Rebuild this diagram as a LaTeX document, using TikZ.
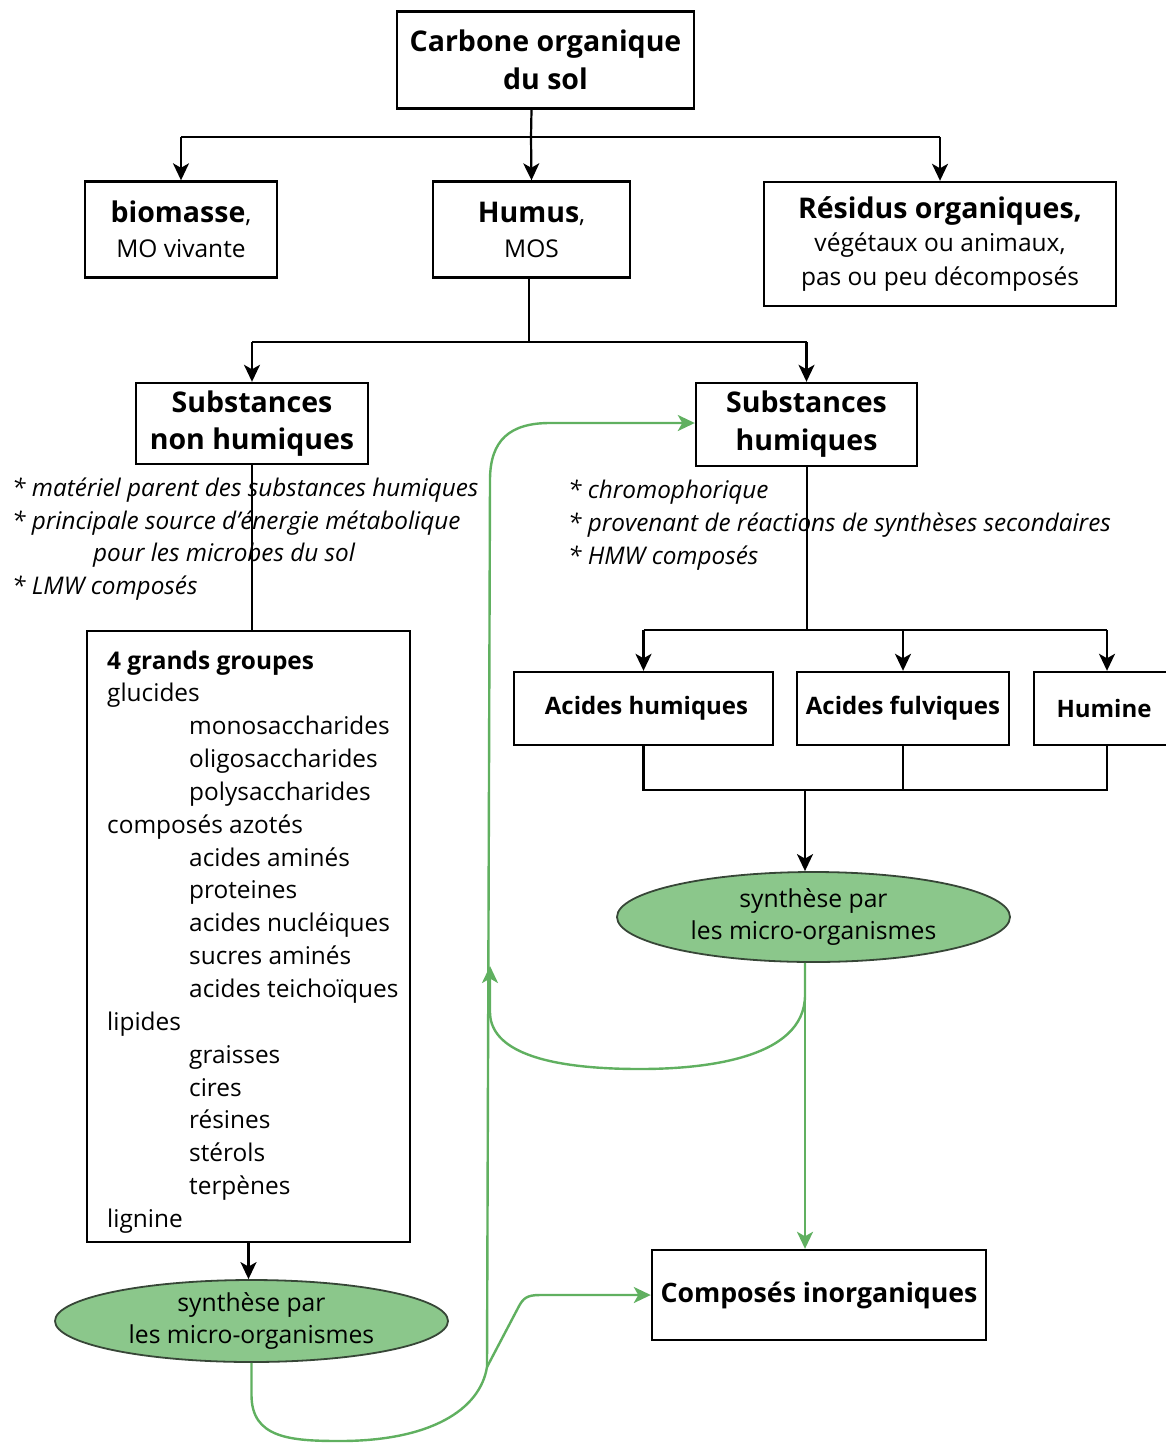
\documentclass[tikz,border=0pt]{standalone}
\usepackage{fontspec}
\setmainfont{Open Sans}
\usetikzlibrary{arrows.meta,shapes.geometric}
\definecolor{gline}{RGB}{96,176,96}
\definecolor{gfill}{RGB}{139,199,139}
\definecolor{gborder}{RGB}{55,70,55}
\tikzset{
  box/.style={draw=black, line width=2.4pt, inner sep=0pt, align=center},
  conn/.style={line width=2.2pt, black},
  arr/.style={conn, -{Stealth[length=17pt,width=16pt,inset=4.5pt]}},
  garr/.style={line width=2.4pt, gline, -{Stealth[length=17pt,width=16pt,inset=4.5pt]}},
  gconn/.style={line width=2.4pt, gline},
  oval/.style={ellipse, draw=gborder, line width=1.8pt, fill=gfill, inner sep=0pt, align=center},
  note/.style={anchor=base west, inner sep=0pt, font=\fontsize{24.3}{30}\selectfont\itshape},
  item/.style={anchor=base west, inner sep=0pt, font=\fontsize{24.4}{32}\selectfont},
}
\newcommand{\bigb}{\fontsize{28.5}{36}\selectfont\bfseries}
\newcommand{\reg}{\fontsize{24.5}{34}\selectfont\mdseries}
\begin{document}
\begin{tikzpicture}[x=1pt,y=-1pt]
\useasboundingbox (0,0) rectangle (1166,1443);
\fill[white] (0,0) rectangle (1166,1443);
% boxes
\node[box, minimum width=297pt, minimum height=97pt, font=\fontsize{28.5}{38}\selectfont\bfseries] (carb) at (545.5,60) {Carbone organique\\du sol};
\node[box, minimum width=192pt, minimum height=96pt, font=\fontsize{24.5}{35}\selectfont] (bio) at (181,229.5) {{\bigb biomasse}{\reg,}\\{\reg MO vivante}};
\node[box, minimum width=197pt, minimum height=96pt, font=\fontsize{24.5}{35}\selectfont] (hum) at (531.5,229.5) {{\bigb Humus}{\reg,}\\{\reg MOS}};
\node[box, minimum width=352pt, minimum height=124pt, font=\fontsize{24.5}{33.5}\selectfont] (res) at (940,244) {{\bigb Résidus organiques,}\\{\reg végétaux ou animaux,}\\{\reg pas ou peu décomposés}};
\node[box, minimum width=232pt, minimum height=81pt, font=\fontsize{28.5}{37}\selectfont\bfseries] (snh) at (252,423.5) {Substances\\non humiques};
\node[box, minimum width=221pt, minimum height=83pt, font=\fontsize{28.5}{38}\selectfont\bfseries] (sh) at (806.5,424.5) {Substances\\humiques};
\node[box, minimum width=323pt, minimum height=611pt] (grp) at (248.5,936.5) {};
\node[box, minimum width=259pt, minimum height=73pt, font=\fontsize{24}{30}\selectfont\bfseries] (ah) at (643.5,708.5) {\hspace*{6pt}Acides humiques};
\node[box, minimum width=212pt, minimum height=73pt, font=\fontsize{24}{30}\selectfont\bfseries] (af) at (903,708.5) {Acides fulviques};
\node[box, minimum width=146pt, minimum height=73pt, font=\fontsize{24}{30}\selectfont\bfseries] (hu) at (1107,708.5) {\hspace*{-6pt}Humine};
\node[box, minimum width=334pt, minimum height=90pt, font=\fontsize{26.7}{30}\selectfont\bfseries] (comp) at (819,1295) {Composés inorganiques};
% ellipses
\node[oval, minimum width=393pt, minimum height=82pt, font=\fontsize{24.7}{32}\selectfont] (ell1) at (251.5,1321) {synthèse par\\les micro-organismes};
\node[oval, minimum width=393pt, minimum height=90pt, font=\fontsize{24.7}{32}\selectfont] (ell2) at (813.5,917) {synthèse par\\les micro-organismes};
% notes left
\node[note] (n1) at (12,496) {* matériel parent des substances humiques};
\node[note] (n2) at (12,529) {* principale source d’énergie métabolique};
\node[note] (n3) at (93,561) {pour les microbes du sol};
\node[note] (n4) at (12,594) {* LMW composés};
% notes right
\node[note] (m1) at (568,498) {* chromophorique};
\node[note] (m2) at (568,531) {* provenant de réactions de synthèses secondaires};
\node[note] (m3) at (568,564) {* HMW composés};
% list
\foreach \t/\ind [count=\i from 0] in {{\textbf{4 grands groupes}}/0, glucides/0, monosaccharides/1, oligosaccharides/1, polysaccharides/1, composés azotés/0, acides aminés/1, proteines/1, acides nucléiques/1, sucres aminés/1, acides teichoïques/1, lipides/0, graisses/1, cires/1, résines/1, stérols/1, terpènes/1, lignine/0}
  \node[item] (l\i) at ({107+82*\ind},{669+32.85*\i}) {\t};
% coordinates
\coordinate (t1) at (531,137);
\coordinate (t2) at (529,342);
\coordinate (t3) at (807,630);
\coordinate (t4) at (805,790);
% black connectors
\draw[conn] (hum.north |- carb.south) -- (t1);
\draw[arr] (t1) -- (hum.north);
\draw[conn] (bio.north |- t1) -- (res.north |- t1);
\draw[arr] (bio.north |- t1) -- (bio.north);
\draw[arr] (res.north |- t1) -- (res.north);
\draw[conn] (hum.south -| t2) -- (t2);
\draw[conn] (snh.north |- t2) -- (sh.north |- t2);
\draw[arr] (snh.north |- t2) -- (snh.north);
\draw[arr] (sh.north |- t2) -- (sh.north);
\draw[conn] (snh.south) -- (snh.south |- grp.north);
\draw[arr] (grp.south) -- (grp.south |- ell1.north);
\draw[conn] (sh.south -| t3) -- (t3);
\draw[conn] (ah.north |- t3) -- (hu.north |- t3);
\draw[arr] (ah.north |- t3) -- (ah.north);
\draw[arr] (af.north |- t3) -- (af.north);
\draw[arr] (hu.north |- t3) -- (hu.north);
\draw[conn] (ah.south) -- (ah.south |- t4) -- (hu.south |- t4) -- (hu.south);
\draw[conn] (af.south) -- (af.south |- t4);
\draw[arr] (t4) -- (t4 |- ell2.north);
% green connectors
\coordinate (j1) at (487,1367);
\draw[gconn] (ell1.south) -- (251.5,1395) .. controls (251.5,1438) and (290,1441) .. (340,1441)
   .. controls (430,1441) and (480,1410) .. (j1);
\draw[garr] (j1) -- (490,480) .. controls (490,440) and (510,423) .. (550,423) -- (sh.west |- 0,423);
\draw[garr] (j1) -- (518,1308) .. controls (523,1298) and (527,1295) .. (540,1295) -- (comp.west);
\draw[garr] (t4 |- ell2.south) -- (t4 |- comp.north);
\draw[garr] (t4 |- ell2.south) -- (805,995) .. controls (805,1060) and (700,1069) .. (640,1069)
   .. controls (530,1069) and (490,1045) .. (490,1012) -- (490,966);
\end{tikzpicture}
\end{document}
